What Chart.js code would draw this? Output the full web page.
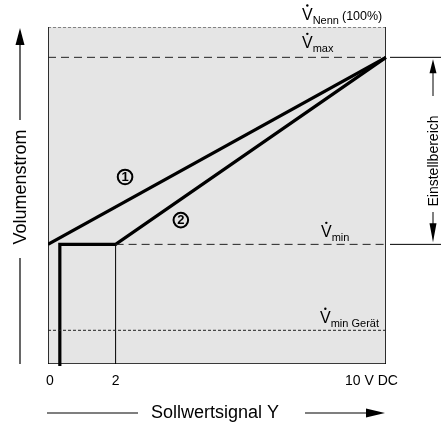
<!DOCTYPE html>
<html>
<head>
<meta charset="utf-8">
<script src="https://cdn.jsdelivr.net/npm/chart.js@4/dist/chart.umd.min.js"></script>
<style>
  html, body { margin: 0; padding: 0; background: #fff; }
  #wrap { width: 441px; height: 425px; }
</style>
</head>
<body>
<div id="wrap"><canvas id="volChart" width="441" height="425"></canvas></div>
<script>
// signal axis (V DC)
const xTicks = [0, 2, 10];
const xTickLabels = ["0", "2", "10 V DC"];

// volume flow levels (% of V Nenn)
const levelValues = [100, 91, 35.5, 10];
const levelNames = ["Nenn", "max", "min", "min Gerät"];

// characteristic curves
const curve1X = [0, 10];
const curve1Y = [35.5, 91];
const curve2X = [0.35, 0.35, 2, 10];
const curve2Y = [-0.6, 35.5, 35.5, 91];
const guideX = [2, 2];
const guideY = [0, 35.5];

const pts = (xs, ys) => xs.map((x, i) => ({ x: x, y: ys[i] }));

const FONT = "'Liberation Sans', Arial, sans-serif";

function arrowHead(ctx, x, y, dir, len, half) {
  ctx.beginPath();
  if (dir === "up") { ctx.moveTo(x, y); ctx.lineTo(x - half, y + len); ctx.lineTo(x + half, y + len); }
  if (dir === "down") { ctx.moveTo(x, y); ctx.lineTo(x - half, y - len); ctx.lineTo(x + half, y - len); }
  if (dir === "right") { ctx.moveTo(x, y); ctx.lineTo(x - len, y - half); ctx.lineTo(x - len, y + half); }
  ctx.closePath();
  ctx.fill();
}

function line(ctx, x1, y1, x2, y2, w) {
  ctx.beginPath();
  ctx.lineWidth = w || 1;
  ctx.moveTo(x1, y1);
  ctx.lineTo(x2, y2);
  ctx.stroke();
}

// V with dot + subscript
function vLabel(ctx, x, base, sub, extra) {
  ctx.fillStyle = "#000";
  ctx.textAlign = "left";
  ctx.textBaseline = "alphabetic";
  ctx.font = "16px " + FONT;
  ctx.fillText("V", x, base);
  const w = ctx.measureText("V").width;
  ctx.beginPath();
  ctx.arc(x + w / 2, base - 14.5, 1.2, 0, Math.PI * 2);
  ctx.fill();
  ctx.font = "11px " + FONT;
  ctx.fillText(sub, x + w, base + 4);
  if (extra) {
    const sw = ctx.measureText(sub).width;
    ctx.font = "12.5px " + FONT;
    ctx.fillText(extra, x + w + sw + 3, base);
  }
}

function circled(ctx, cx, cy, txt) {
  ctx.strokeStyle = "#000";
  ctx.lineWidth = 2;
  ctx.beginPath();
  ctx.arc(cx, cy, 7.3, 0, Math.PI * 2);
  ctx.stroke();
  ctx.fillStyle = "#000";
  ctx.font = "bold 13px " + FONT;
  ctx.textAlign = "center";
  ctx.textBaseline = "middle";
  ctx.fillText(txt, cx, cy + 0.5);
}

const diagramPlugin = {
  id: "diagram",
  beforeDatasetsDraw(chart) {
    const { ctx, chartArea: a } = chart;
    ctx.save();
    ctx.fillStyle = "#e5e5e5";
    ctx.fillRect(a.left, a.top, a.right - a.left, a.bottom - a.top);
    ctx.restore();
  },
  afterDraw(chart) {
    const { ctx, chartArea: a } = chart;
    const xs = chart.scales.x, ys = chart.scales.y;
    ctx.save();
    ctx.strokeStyle = "#000";
    ctx.fillStyle = "#000";

    // tick labels
    ctx.font = "14px " + FONT;
    ctx.textBaseline = "middle";
    xTicks.forEach((t, i) => {
      const px = xs.getPixelForValue(t);
      if (i === xTicks.length - 1) {
        ctx.textAlign = "left";
        ctx.fillText(xTickLabels[i], px - 41, 381);
      } else {
        ctx.textAlign = "center";
        ctx.fillText(xTickLabels[i], px + (i === 0 ? 2 : 0), 381);
      }
    });

    // x axis title with arrow
    ctx.font = "18px " + FONT;
    ctx.textAlign = "center";
    ctx.fillText("Sollwertsignal Y", 215, 413);
    line(ctx, 47, 413, 138, 413, 1.2);
    line(ctx, 305, 413, 370, 413, 1.2);
    arrowHead(ctx, 385, 413, "right", 19, 4.5);

    // y axis title with arrow
    ctx.save();
    ctx.translate(20, 187);
    ctx.rotate(-Math.PI / 2);
    ctx.font = "18px " + FONT;
    ctx.textAlign = "center";
    ctx.textBaseline = "middle";
    ctx.fillText("Volumenstrom", 0, 1);
    ctx.restore();
    line(ctx, 20, 40, 20, 120, 1.2);
    arrowHead(ctx, 20, 28, "up", 17, 4.5);
    line(ctx, 20, 258, 20, a.bottom, 1.2);

    // Einstellbereich bracket on the right
    const yMax = ys.getPixelForValue(levelValues[1]);
    const yMin = ys.getPixelForValue(levelValues[2]);
    line(ctx, a.right + 4, yMax, chart.width, yMax, 1);
    line(ctx, a.right + 4, yMin, chart.width, yMin, 1);
    const bx = 433;
    arrowHead(ctx, bx, yMax + 2, "up", 14, 3.5);
    line(ctx, bx, yMax + 14, bx, 96, 1);
    line(ctx, bx, 212, bx, yMin - 14, 1);
    arrowHead(ctx, bx, yMin - 2, "down", 19, 3.5);
    ctx.save();
    ctx.translate(bx, (112 + 210) / 2);
    ctx.rotate(-Math.PI / 2);
    ctx.font = "14px " + FONT;
    ctx.textAlign = "center";
    ctx.textBaseline = "middle";
    ctx.fillText("Einstellbereich", 0, 1);
    ctx.restore();

    // level labels
    const lx = xs.getPixelForValue(10);
    vLabel(ctx, lx - 84, ys.getPixelForValue(levelValues[0]) - 7, levelNames[0], "(100%)");
    vLabel(ctx, lx - 84, ys.getPixelForValue(levelValues[1]) - 9, levelNames[1]);
    vLabel(ctx, lx - 65, ys.getPixelForValue(levelValues[2]) - 7, levelNames[2]);
    vLabel(ctx, lx - 66, ys.getPixelForValue(levelValues[3]) - 7, levelNames[3]);

    // curve markers
    circled(ctx, xs.getPixelForValue(2.28), ys.getPixelForValue(55.5), "1");
    circled(ctx, xs.getPixelForValue(3.93), ys.getPixelForValue(42.7), "2");
    ctx.restore();
  }
};

const thin = { borderColor: "#000", borderWidth: 1, pointRadius: 0, showLine: true, fill: false };

new Chart(document.getElementById("volChart"), {
  type: "scatter",
  data: {
    datasets: [
      { ...thin, data: pts([0, 10], [levelValues[0], levelValues[0]]), borderColor: "#222", borderDash: [3, 2] },
      { ...thin, data: pts([0, 10], [levelValues[1], levelValues[1]]), borderColor: "#222", borderDash: [8, 5] },
      { ...thin, data: pts([2, 10], [levelValues[2], levelValues[2]]), borderColor: "#222", borderDash: [8, 5] },
      { ...thin, data: pts([0, 10], [levelValues[3], levelValues[3]]), borderColor: "#222", borderDash: [3, 2] },
      { ...thin, data: pts(guideX, guideY) },
      { ...thin, data: pts([0, 0, 10, 10], [levelValues[0], 0, 0, levelValues[0]]), borderWidth: 1.6 },
      { ...thin, data: pts(curve1X, curve1Y), borderWidth: 3.2 },
      { ...thin, data: pts(curve2X, curve2Y), borderWidth: 3.2, borderJoinStyle: "miter", clip: false }
    ]
  },
  options: {
    responsive: false,
    animation: false,
    layout: { padding: { left: 48, right: 55, top: 27, bottom: 61 } },
    plugins: { legend: { display: false }, tooltip: { enabled: false } },
    scales: {
      x: { type: "linear", min: 0, max: 10, display: false },
      y: { type: "linear", min: 0, max: 100, display: false }
    }
  },
  plugins: [diagramPlugin]
});
</script>
</body>
</html>
